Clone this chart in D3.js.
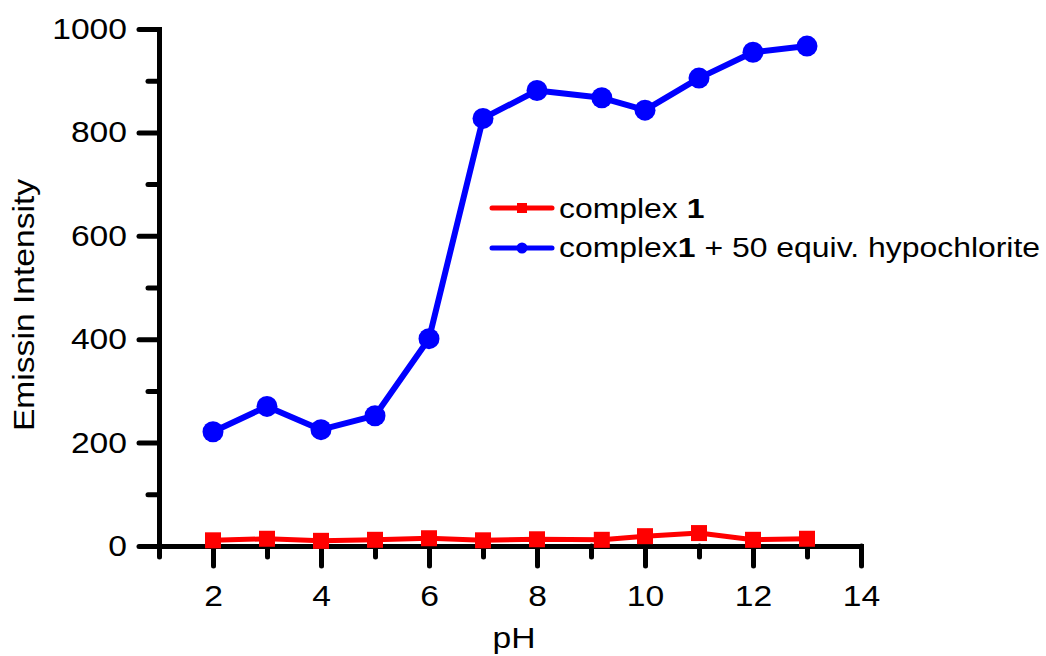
<!DOCTYPE html>
<html>
<head>
<meta charset="utf-8">
<script src="https://cdn.jsdelivr.net/npm/d3@7"></script>
<style>
  html, body { margin: 0; padding: 0; background: #fff; }
  svg text { font-family: "Liberation Sans", Arial, sans-serif; fill: #000; }
</style>
</head>
<body>
<svg id="chart" width="1046" height="656"></svg>
<script>
// pH values at which emission was recorded
const pH = [2, 3, 4, 5, 6, 7, 8, 9.2, 10, 11, 12, 13];
// Emission intensity of complex 1 alone
const complexOnly = [11, 14, 10, 12, 15, 11, 13, 12, 19, 25, 12, 14];
// Emission intensity of complex 1 with 50 equiv. hypochlorite
const complexHypo = [221, 270, 225, 252, 401, 827, 881, 867, 843, 905, 955, 967];

const xMajor = [2, 4, 6, 8, 10, 12, 14];
const xMinor = [1, 3, 5, 7, 9, 11, 13];
const yMajor = [0, 200, 400, 600, 800, 1000];
const yMinor = [100, 300, 500, 700, 900];

const svg = d3.select("#chart");
const x = d3.scaleLinear().domain([1, 14]).range([159, 861]);
const y = d3.scaleLinear().domain([0, 1000]).range([546, 29]);

const AXIS_W = 5;
const FONT = 29.5;
const WIDEN = 1.14;   // text is set slightly wider than the regular face

// stretch a text element along its reading direction, keeping its anchor point fixed
function widen(sel) {
  sel.each(function () {
    const t = d3.select(this);
    const x0 = +t.attr("x") || 0;
    t.attr("x", x0 / WIDEN).attr("transform", `scale(${WIDEN},1)`);
  });
}

function styleAxis(g) {
  g.selectAll(".domain").attr("stroke", "#000").attr("stroke-width", AXIS_W).attr("stroke-linecap", "square");
  g.selectAll(".tick line").attr("stroke", "#000").attr("stroke-width", AXIS_W).attr("stroke-linecap", "round");
  g.selectAll(".tick text").attr("font-size", FONT).attr("font-family", "Liberation Sans, Arial, sans-serif").call(widen);
}

// minor ticks first
svg.append("g").attr("transform", `translate(0,${y(0)})`)
  .call(d3.axisBottom(x).tickValues(xMinor).tickSize(11).tickSizeOuter(0).tickFormat(""))
  .call(g => { styleAxis(g); g.select(".domain").remove(); });
svg.append("g").attr("transform", `translate(${x(1)},0)`)
  .call(d3.axisLeft(y).tickValues(yMinor).tickSize(11).tickSizeOuter(0).tickFormat(""))
  .call(g => { styleAxis(g); g.select(".domain").remove(); });

// major ticks with labels
svg.append("g").attr("transform", `translate(0,${y(0)})`)
  .call(d3.axisBottom(x).tickValues(xMajor).tickSize(20).tickSizeOuter(0).tickPadding(19).tickFormat(d3.format("d")))
  .call(styleAxis);
svg.append("g").attr("transform", `translate(${x(1)},0)`)
  .call(d3.axisLeft(y).tickValues(yMajor).tickSize(20).tickSizeOuter(0).tickPadding(12).tickFormat(d3.format("d")))
  .call(styleAxis);

// axis titles
svg.append("g").attr("transform", "translate(514,648)")
  .append("text").attr("text-anchor", "middle").attr("font-size", FONT)
  .attr("transform", `scale(${WIDEN},1)`).text("pH");
svg.append("g").attr("transform", "translate(34,305) rotate(-90)")
  .append("text").attr("text-anchor", "middle").attr("font-size", FONT)
  .attr("transform", `scale(${WIDEN},1)`).text("Emissin Intensity");

const line = d3.line().x((d, i) => x(pH[i])).y(d => y(d));

// complex 1 + hypochlorite
svg.append("path").datum(complexHypo).attr("d", line)
  .attr("fill", "none").attr("stroke", "#0000ff").attr("stroke-width", 6).attr("stroke-linejoin", "round");
svg.append("g").selectAll("circle").data(complexHypo).join("circle")
  .attr("cx", (d, i) => x(pH[i])).attr("cy", d => y(d)).attr("r", 10.5).attr("fill", "#0000ff");

// complex 1 alone
svg.append("path").datum(complexOnly).attr("d", line)
  .attr("fill", "none").attr("stroke", "#ff0000").attr("stroke-width", 5).attr("stroke-linejoin", "round");
const SQ = 16;
svg.append("g").selectAll("rect").data(complexOnly).join("rect")
  .attr("x", (d, i) => x(pH[i]) - SQ / 2).attr("y", d => y(d) - SQ / 2)
  .attr("width", SQ).attr("height", SQ).attr("fill", "#ff0000");

// legend
const legend = svg.append("g");
const legendItems = [
  { color: "#ff0000", shape: "square", y: 208, baseline: 218, parts: [["complex ", "normal"], ["1", "bold"]] },
  { color: "#0000ff", shape: "circle", y: 248, baseline: 257, parts: [["complex", "normal"], ["1", "bold"], [" + 50 equiv. hypochlorite", "normal"]] }
];
legendItems.forEach(it => {
  legend.append("line").attr("x1", 492).attr("x2", 552).attr("y1", it.y).attr("y2", it.y)
    .attr("stroke", it.color).attr("stroke-width", 5).attr("stroke-linecap", "round");
  if (it.shape === "square") {
    legend.append("rect").attr("x", 517).attr("y", it.y - 5).attr("width", 10).attr("height", 10).attr("fill", it.color);
  } else {
    legend.append("circle").attr("cx", 522).attr("cy", it.y).attr("r", 5.5).attr("fill", it.color);
  }
  const t = legend.append("g").attr("transform", `translate(559,${it.baseline})`)
    .append("text").attr("font-size", 28).attr("transform", `scale(${WIDEN},1)`);
  it.parts.forEach(([s, w]) => t.append("tspan").attr("font-weight", w).text(s));
});
</script>
</body>
</html>
